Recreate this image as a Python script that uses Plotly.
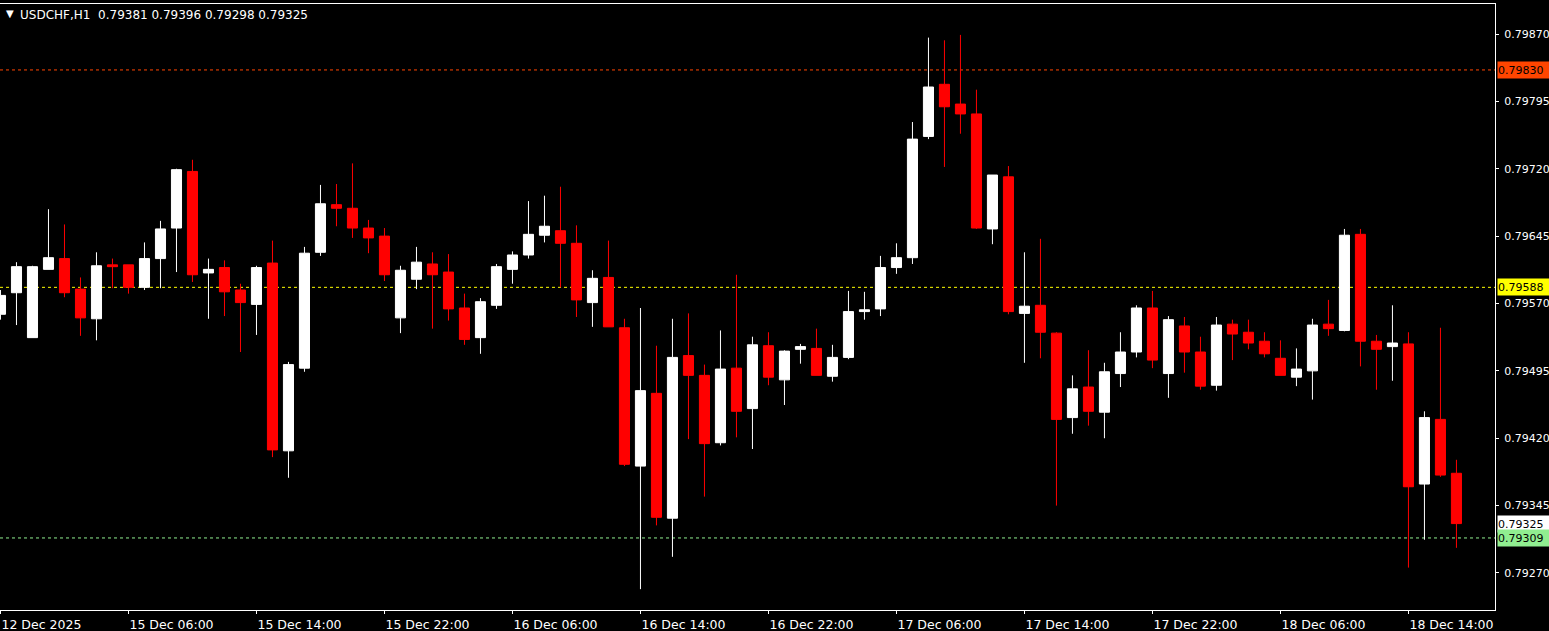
import plotly.graph_objects as go
import pandas as pd

# ---- data -------------------------------------------------------------
times = (list(pd.date_range("2025-12-12 22:00", periods=2, freq="h")) +
         list(pd.date_range("2025-12-15 00:00", periods=90, freq="h")))
categories = [t.strftime("%Y-%m-%d %H:%M") for t in times]

opens = [0.79558, 0.79582, 0.79532, 0.79608, 0.79620, 0.79586, 0.79553, 0.79613, 0.79613, 0.79588,
         0.79620, 0.79654, 0.79717, 0.79604, 0.79610, 0.79585, 0.79569, 0.79615, 0.79406, 0.79498,
         0.79627, 0.79680, 0.79676, 0.79654, 0.79645, 0.79554, 0.79597, 0.79614, 0.79605, 0.79565,
         0.79532, 0.79568, 0.79608, 0.79624, 0.79646, 0.79651, 0.79637, 0.79571, 0.79599, 0.79543,
         0.79389, 0.79470, 0.79331, 0.79512, 0.79490, 0.79415, 0.79498, 0.79453, 0.79523, 0.79485,
         0.79519, 0.79520, 0.79489, 0.79510, 0.79561, 0.79564, 0.79610, 0.79621, 0.79756, 0.79814,
         0.79792, 0.79781, 0.79653, 0.79711, 0.79559, 0.79568, 0.79537, 0.79443, 0.79477, 0.79449,
         0.79492, 0.79516, 0.79565, 0.79492, 0.79545, 0.79516, 0.79479, 0.79547, 0.79538, 0.79528,
         0.79509, 0.79488, 0.79495, 0.79547, 0.79540, 0.79647, 0.79528, 0.79522, 0.79525, 0.79369,
         0.79441, 0.79381]
highs = [0.79585, 0.79616, 0.79612, 0.79675, 0.79658, 0.79599, 0.79627, 0.79620, 0.79613, 0.79638,
         0.79662, 0.79720, 0.79730, 0.79620, 0.79618, 0.79592, 0.79612, 0.79640, 0.79505, 0.79633,
         0.79702, 0.79703, 0.79726, 0.79663, 0.79654, 0.79612, 0.79633, 0.79627, 0.79625, 0.79581,
         0.79576, 0.79614, 0.79628, 0.79684, 0.79690, 0.79700, 0.79657, 0.79607, 0.79640, 0.79553,
         0.79565, 0.79523, 0.79553, 0.79559, 0.79502, 0.79540, 0.79602, 0.79533, 0.79538, 0.79518,
         0.79525, 0.79542, 0.79524, 0.79584, 0.79583, 0.79623, 0.79637, 0.79772, 0.79866, 0.79863,
         0.79869, 0.79808, 0.79713, 0.79723, 0.79627, 0.79642, 0.79538, 0.79490, 0.79518, 0.79504,
         0.79538, 0.79568, 0.79584, 0.79556, 0.79555, 0.79533, 0.79555, 0.79552, 0.79552, 0.79538,
         0.79529, 0.79520, 0.79553, 0.79574, 0.79653, 0.79653, 0.79535, 0.79568, 0.79538, 0.79450,
         0.79543, 0.79396]
lows = [0.79552, 0.79546, 0.79532, 0.79608, 0.79577, 0.79534, 0.79529, 0.79587, 0.79581, 0.79585,
        0.79587, 0.79605, 0.79594, 0.79553, 0.79556, 0.79516, 0.79535, 0.79399, 0.79376, 0.79494,
        0.79623, 0.79656, 0.79643, 0.79626, 0.79595, 0.79537, 0.79586, 0.79542, 0.79551, 0.79524,
        0.79514, 0.79564, 0.79592, 0.79620, 0.79638, 0.79588, 0.79555, 0.79544, 0.79544, 0.79389,
        0.79252, 0.79323, 0.79288, 0.79419, 0.79355, 0.79412, 0.79421, 0.79408, 0.79479, 0.79457,
        0.79503, 0.79490, 0.79483, 0.79508, 0.79552, 0.79556, 0.79603, 0.79614, 0.79753, 0.79722,
        0.79759, 0.79653, 0.79636, 0.79558, 0.79504, 0.79509, 0.79345, 0.79425, 0.79434, 0.79420,
        0.79477, 0.79510, 0.79498, 0.79465, 0.79493, 0.79474, 0.79473, 0.79507, 0.79519, 0.79510,
        0.79490, 0.79478, 0.79463, 0.79534, 0.79539, 0.79500, 0.79474, 0.79484, 0.79276, 0.79307,
        0.79377, 0.79298]
closes = [0.79579, 0.79611, 0.79611, 0.79621, 0.79582, 0.79554, 0.79612, 0.79611, 0.79588, 0.79620,
          0.79653, 0.79719, 0.79602, 0.79608, 0.79583, 0.79571, 0.79610, 0.79407, 0.79502, 0.79626,
          0.79681, 0.79676, 0.79654, 0.79643, 0.79602, 0.79607, 0.79616, 0.79602, 0.79564, 0.79530,
          0.79572, 0.79611, 0.79624, 0.79647, 0.79656, 0.79637, 0.79574, 0.79598, 0.79544, 0.79391,
          0.79473, 0.79332, 0.79510, 0.79490, 0.79414, 0.79497, 0.79450, 0.79524, 0.79488, 0.79517,
          0.79522, 0.79490, 0.79510, 0.79561, 0.79563, 0.79610, 0.79621, 0.79753, 0.79811, 0.79789,
          0.79781, 0.79654, 0.79713, 0.79561, 0.79567, 0.79538, 0.79441, 0.79475, 0.79450, 0.79494,
          0.79516, 0.79565, 0.79507, 0.79552, 0.79516, 0.79478, 0.79546, 0.79536, 0.79526, 0.79514,
          0.79490, 0.79497, 0.79546, 0.79542, 0.79646, 0.79528, 0.79519, 0.79526, 0.79366, 0.79443,
          0.79379, 0.79325]

x_tick_positions = categories[0::8]
x_tick_labels = ["12 Dec 2025", "15 Dec 06:00", "15 Dec 14:00", "15 Dec 22:00",
                 "16 Dec 06:00", "16 Dec 14:00", "16 Dec 22:00", "17 Dec 06:00",
                 "17 Dec 14:00", "17 Dec 22:00", "18 Dec 06:00", "18 Dec 14:00"]

y_tick_values = [0.79270, 0.79345, 0.79420, 0.79495, 0.79570,
                 0.79645, 0.79720, 0.79795, 0.79870]
y_tick_labels = ["0.79270", "0.79345", "0.79420", "0.79495", "0.79570",
                 "0.79645", "0.79720", "0.79795", "0.79870"]

level_prices = [0.79830, 0.79588, 0.79309]
level_colors = ["#FF4500", "#FFFF00", "#90EE90"]

tag_prices = [0.79830, 0.79588, 0.79325, 0.79309]
tag_labels = ["0.79830", "0.79588", "0.79325", "0.79309"]
tag_colors = ["#FF4500", "#FFFF00", "#FFFFFF", "#90EE90"]

header_text = "USDCHF,H1  0.79381 0.79396 0.79298 0.79325"

# ---- figure -----------------------------------------------------------
FONT = "DejaVu Sans"

fig = go.Figure()
fig.add_trace(go.Candlestick(
    x=categories, open=opens, high=highs, low=lows, close=closes,
    increasing=dict(line=dict(color="#FFFFFF", width=1), fillcolor="#FFFFFF"),
    decreasing=dict(line=dict(color="#FF0000", width=1), fillcolor="#FF0000"),
    whiskerwidth=0, hoverinfo="skip", showlegend=False,
))

shapes = []
for p, c in zip(level_prices, level_colors):
    shapes.append(dict(type="line", xref="paper", yref="y", x0=0, x1=1, y0=p, y1=p,
                       line=dict(color=c, width=1, dash="3px,3px"), layer="below"))

annotations = []
for p, t, c in zip(tag_prices, tag_labels, tag_colors):
    annotations.append(dict(xref="paper", yref="y", x=1, y=p, xanchor="left", yanchor="middle",
                            xshift=2, text=t, showarrow=False, align="left",
                            width=52, height=16, borderpad=0, bgcolor=c,
                            font=dict(family=FONT, size=11, color="#000000")))
annotations.append(dict(xref="paper", yref="paper", x=4 / 1495, y=(610 - 14) / 606,
                        xanchor="left", yanchor="middle", text="▼", showarrow=False,
                        font=dict(family=FONT, size=10, color="#FFFFFF")))
annotations.append(dict(xref="paper", yref="paper", x=18 / 1495, y=(610 - 15) / 606,
                        xanchor="left", yanchor="middle", text=header_text, showarrow=False,
                        font=dict(family=FONT, size=12, color="#FFFFFF")))

fig.update_layout(
    width=1549, height=631,
    margin=dict(l=0, r=54, t=4, b=21, autoexpand=False),
    paper_bgcolor="#000000", plot_bgcolor="#000000",
    font=dict(family=FONT, size=12, color="#FFFFFF"),
    boxgap=0.37, boxgroupgap=0,
    hovermode=False,
    shapes=shapes, annotations=annotations,
    xaxis=dict(type="category", range=[-0.03, 93.41], rangeslider=dict(visible=False),
               automargin=False,
               showgrid=False, zeroline=False,
               showline=True, linecolor="#FFFFFF", linewidth=1, mirror=True,
               ticks="outside", ticklen=3, tickcolor="#FFFFFF", tickwidth=1,
               tickmode="array", tickvals=x_tick_positions, ticktext=x_tick_labels,
               ticklabelposition="outside right", ticklabeloverflow="allow",
               ticklabelstandoff=3,
               tickfont=dict(family=FONT, size=12.5, color="#FFFFFF")),
    yaxis=dict(side="right", range=[0.792288, 0.799034], showgrid=False, zeroline=False,
               automargin=False,
               showline=True, linecolor="#FFFFFF", linewidth=1,
               ticks="outside", ticklen=3, tickcolor="#FFFFFF", tickwidth=1,
               tickmode="array", tickvals=y_tick_values, ticktext=y_tick_labels,
               ticklabeloverflow="allow", ticklabelstandoff=3,
               tickfont=dict(family=FONT, size=11, color="#FFFFFF")),
)

fig.write_html("out.html", config={"displayModeBar": False},
               post_script="document.body.style.margin='0px';document.body.style.overflow='hidden';")
